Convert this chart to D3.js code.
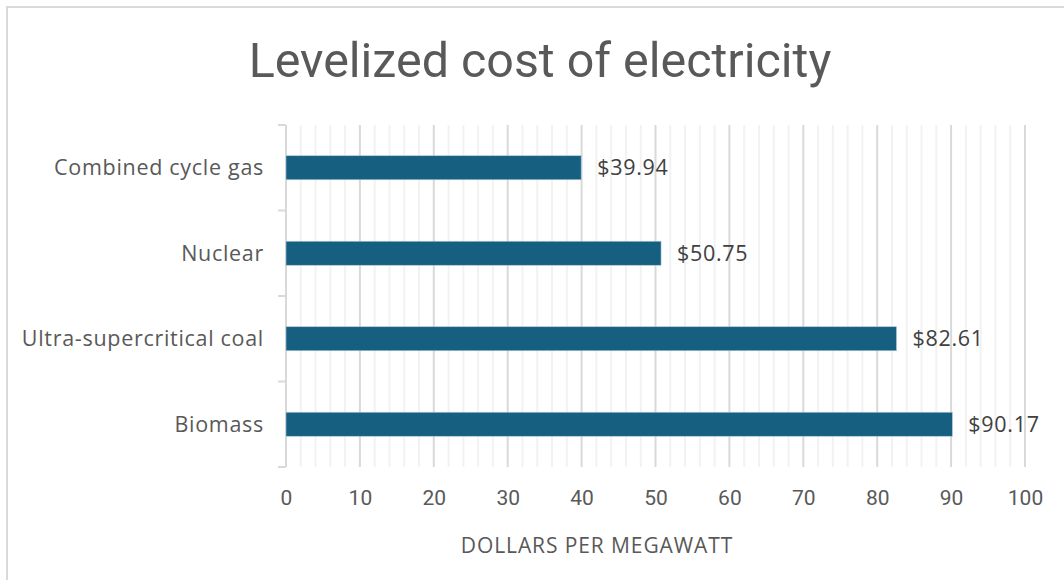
<!DOCTYPE html>
<html>
<head>
<meta charset="utf-8">
<script src="https://cdn.jsdelivr.net/npm/d3@7"></script>
<style>
  body { margin: 0; background: #fff; }
  svg { display: block; font-family: "Open Sans", sans-serif; }
</style>
</head>
<body>
<svg width="1064" height="580"></svg>
<script>
// values
var categories = ['Combined cycle gas', 'Nuclear', 'Ultra-supercritical coal', 'Biomass'];
var costs = [39.94, 50.75, 82.61, 90.17];
var xTicks = [0, 10, 20, 30, 40, 50, 60, 70, 80, 90, 100];
var minorTicks = d3.range(0, 101, 2);

function main() {
	var svg = d3.select('svg'),
		width = +svg.attr('width'),
		height = +svg.attr('height');

	var left = 286, right = 1025, top = 125, bottom = 467;

	// frame (cut off at right and bottom like the original)
	svg.append('rect')
		.attr('x', 7).attr('y', 7)
		.attr('width', width + 20).attr('height', height + 20)
		.attr('fill', '#fff')
		.attr('stroke', '#d9d9d9').attr('stroke-width', 2);

	svg.append('text')
		.attr('x', 540).attr('y', 77)
		.attr('text-anchor', 'middle')
		.attr('font-size', 48.4)
		.attr('font-family', 'Roboto, sans-serif')
		.attr('fill', '#595959')
		.text('Levelized cost of electricity');

	var x = d3.scaleLinear().domain([0, 100]).range([left, right]);
	var y = d3.scaleBand().domain(categories).range([top, bottom]);

	var data = categories.map(function(c, i) { return {name: c, value: costs[i]}; });

	// minor grid
	svg.append('g').selectAll('line')
		.data(minorTicks.filter(function(d) { return d % 10 !== 0; }))
		.enter().append('line')
		.attr('x1', function(d) { return x(d); }).attr('x2', function(d) { return x(d); })
		.attr('y1', top).attr('y2', bottom)
		.attr('stroke', '#f2f2f2').attr('stroke-width', 2);

	// major grid
	svg.append('g').selectAll('line')
		.data(xTicks.slice(1))
		.enter().append('line')
		.attr('x1', function(d) { return x(d); }).attr('x2', function(d) { return x(d); })
		.attr('y1', top).attr('y2', bottom)
		.attr('stroke', '#d9d9d9').attr('stroke-width', 2);

	// category axis line with boundary ticks
	var bounds = categories.map(function(c) { return y(c); }).concat([bottom]);
	svg.append('line')
		.attr('x1', left).attr('x2', left)
		.attr('y1', top).attr('y2', bottom)
		.attr('stroke', '#d9d9d9').attr('stroke-width', 2);
	svg.append('g').selectAll('line')
		.data(bounds)
		.enter().append('line')
		.attr('x1', left - 8).attr('x2', left)
		.attr('y1', function(d) { return d; }).attr('y2', function(d) { return d; })
		.attr('stroke', '#d9d9d9').attr('stroke-width', 2);

	var barH = 24;
	svg.append('g').selectAll('rect')
		.data(data)
		.enter().append('rect')
		.attr('x', x(0))
		.attr('y', function(d) { return y(d.name) + y.bandwidth() / 2 - barH / 2; })
		.attr('width', function(d) { return x(d.value) - x(0); })
		.attr('height', barH)
		.attr('fill', '#175f80')
		.attr('stroke', '#a9c8d8').attr('stroke-width', 0.6);

	// data labels
	svg.append('g').selectAll('text')
		.data(data)
		.enter().append('text')
		.attr('x', function(d) { return x(d.value) + 16; })
		.attr('y', function(d) { return y(d.name) + y.bandwidth() / 2; })
		.attr('dy', '0.35em')
		.attr('font-size', 21.5)
		.attr('letter-spacing', 0.7)
		.attr('fill', '#404040')
		.text(function(d) { return '$' + d.value.toFixed(2); });

	// category labels
	svg.append('g').selectAll('text')
		.data(categories)
		.enter().append('text')
		.attr('x', 264)
		.attr('y', function(d) { return y(d) + y.bandwidth() / 2; })
		.attr('dy', '0.35em')
		.attr('text-anchor', 'end')
		.attr('font-size', 21.5)
		.attr('letter-spacing', 0.7)
		.attr('fill', '#595959')
		.text(function(d) { return d; });

	// value axis labels
	var xAxis = d3.axisBottom(x).tickValues(xTicks).tickSize(0).tickPadding(0);
	var ga = svg.append('g')
		.attr('transform', 'translate(0,' + 505 + ')')
		.call(xAxis);
	ga.select('.domain').remove();
	ga.selectAll('text')
		.attr('dy', 0)
		.attr('y', 0)
		.attr('font-size', 21)
		.attr('font-family', 'Roboto, sans-serif')
		.attr('fill', '#595959');

	svg.append('text')
		.attr('x', 597).attr('y', 553)
		.attr('text-anchor', 'middle')
		.attr('font-size', 21)
		.attr('letter-spacing', 0.9)
		.attr('fill', '#595959')
		.text('DOLLARS PER MEGAWATT');
}
main();
</script>
</body>
</html>
